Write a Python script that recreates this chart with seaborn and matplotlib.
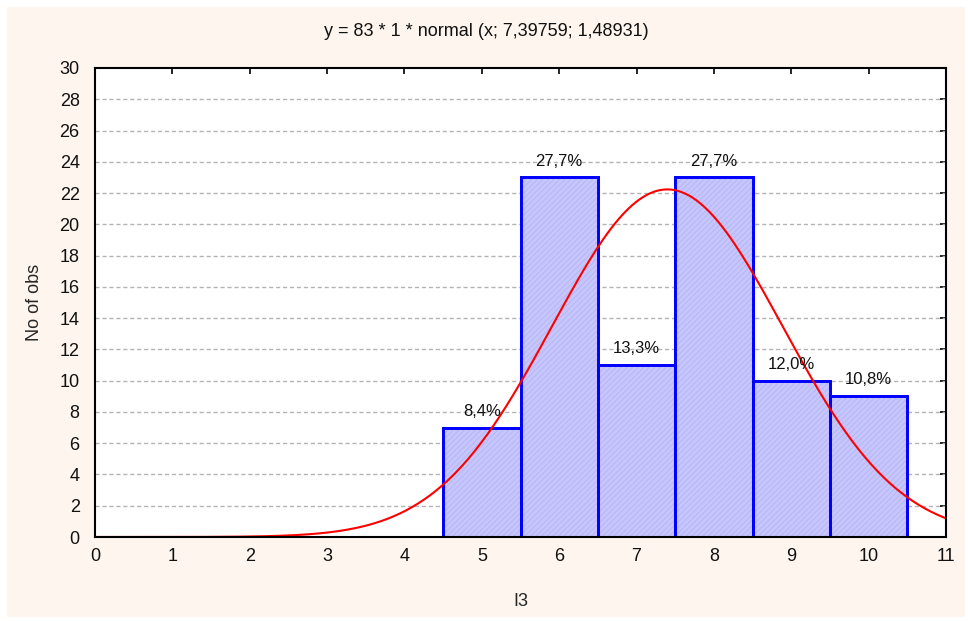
import numpy as np
import pandas as pd
import matplotlib
matplotlib.use("Agg")
import matplotlib.pyplot as plt
from matplotlib.patches import Rectangle
import seaborn as sns

# Frequency table for variable I3
bin_centers = [5, 6, 7, 8, 9, 10]
counts = [7, 23, 11, 23, 10, 9]
pct_labels = ["8,4%", "27,7%", "13,3%", "27,7%", "12,0%", "10,8%"]
x_ticks = list(range(0, 12))
y_ticks = list(range(0, 31, 2))

# fitted normal curve parameters
n_obs = 83
mu = 7.39759
sigma = 1.48931

sns.set_theme(style="white")
plt.rcParams["font.family"] = ["Liberation Sans", "DejaVu Sans"]
plt.rcParams["hatch.linewidth"] = 0.6

fig = plt.figure(figsize=(9.72, 6.21), dpi=100)
fig.patch.set_facecolor("white")
fig.patches.append(Rectangle((7 / 972, 4 / 621), 958 / 972, 610 / 621,
                             transform=fig.transFigure, facecolor="#fdf5ee",
                             edgecolor="none", zorder=-10))

ax = fig.add_axes([95 / 972, 1 - 537 / 621, 851 / 972, 469 / 621])
ax.set_facecolor("white")

df = pd.DataFrame({"I3": bin_centers, "count": counts})
sns.histplot(data=df, x="I3", weights="count", binwidth=1,
             binrange=(4.5, 10.5), ax=ax,
             color="#c6c6fc", alpha=1.0, edgecolor="#0000ff", linewidth=2,
             zorder=2)

# fine diagonal texture over the bars
for p in list(ax.patches):
    ax.add_patch(Rectangle(p.get_xy(), p.get_width(), p.get_height(),
                           facecolor="none", edgecolor="#b4b4f6",
                           linewidth=0, hatch="//////", zorder=2.5))
    ax.add_patch(Rectangle(p.get_xy(), p.get_width(), p.get_height(),
                           facecolor="none", edgecolor="#0000ff",
                           linewidth=2, zorder=2.6))

# percentage labels above bars
for xc, c, lab in zip(bin_centers, counts, pct_labels):
    ax.text(xc, c + 1.05, lab, ha="center", va="center", fontsize=12,
            color="#111111", zorder=4)

# normal fit
xs = np.linspace(0, 11, 400)
ys = n_obs * 1 * np.exp(-0.5 * ((xs - mu) / sigma) ** 2) / (sigma * np.sqrt(2 * np.pi))
sns.lineplot(x=xs, y=ys, ax=ax, color="#ff0000", linewidth=1.5, zorder=3)

ax.set_xlim(0, 11)
ax.set_ylim(0, 30)
ax.set_xticks(x_ticks)
ax.set_yticks(y_ticks)
ax.tick_params(direction="in", length=4, width=1.2, color="black",
               top=True, right=True, labelsize=13, labelcolor="#111111")
ax.tick_params(axis="y", pad=11)
ax.tick_params(axis="x", pad=8)

for yv in y_ticks[1:-1]:
    ax.axhline(yv, color="#b4b4b4", linewidth=1, linestyle=(0, (3, 2)), zorder=1)

for s in ax.spines.values():
    s.set_color("black")
    s.set_linewidth(1.5)
    s.set_zorder(5)

ax.set_xlabel("I3", fontsize=13, labelpad=20)
ax.set_ylabel("No of obs", fontsize=13, labelpad=12)
fig.text(0.5, 1 - 31 / 621, "y = 83 * 1 * normal (x; 7,39759; 1,48931)",
         ha="center", va="center", fontsize=13, color="#111111")

fig.savefig("out.png", dpi=100, facecolor=fig.get_facecolor())
